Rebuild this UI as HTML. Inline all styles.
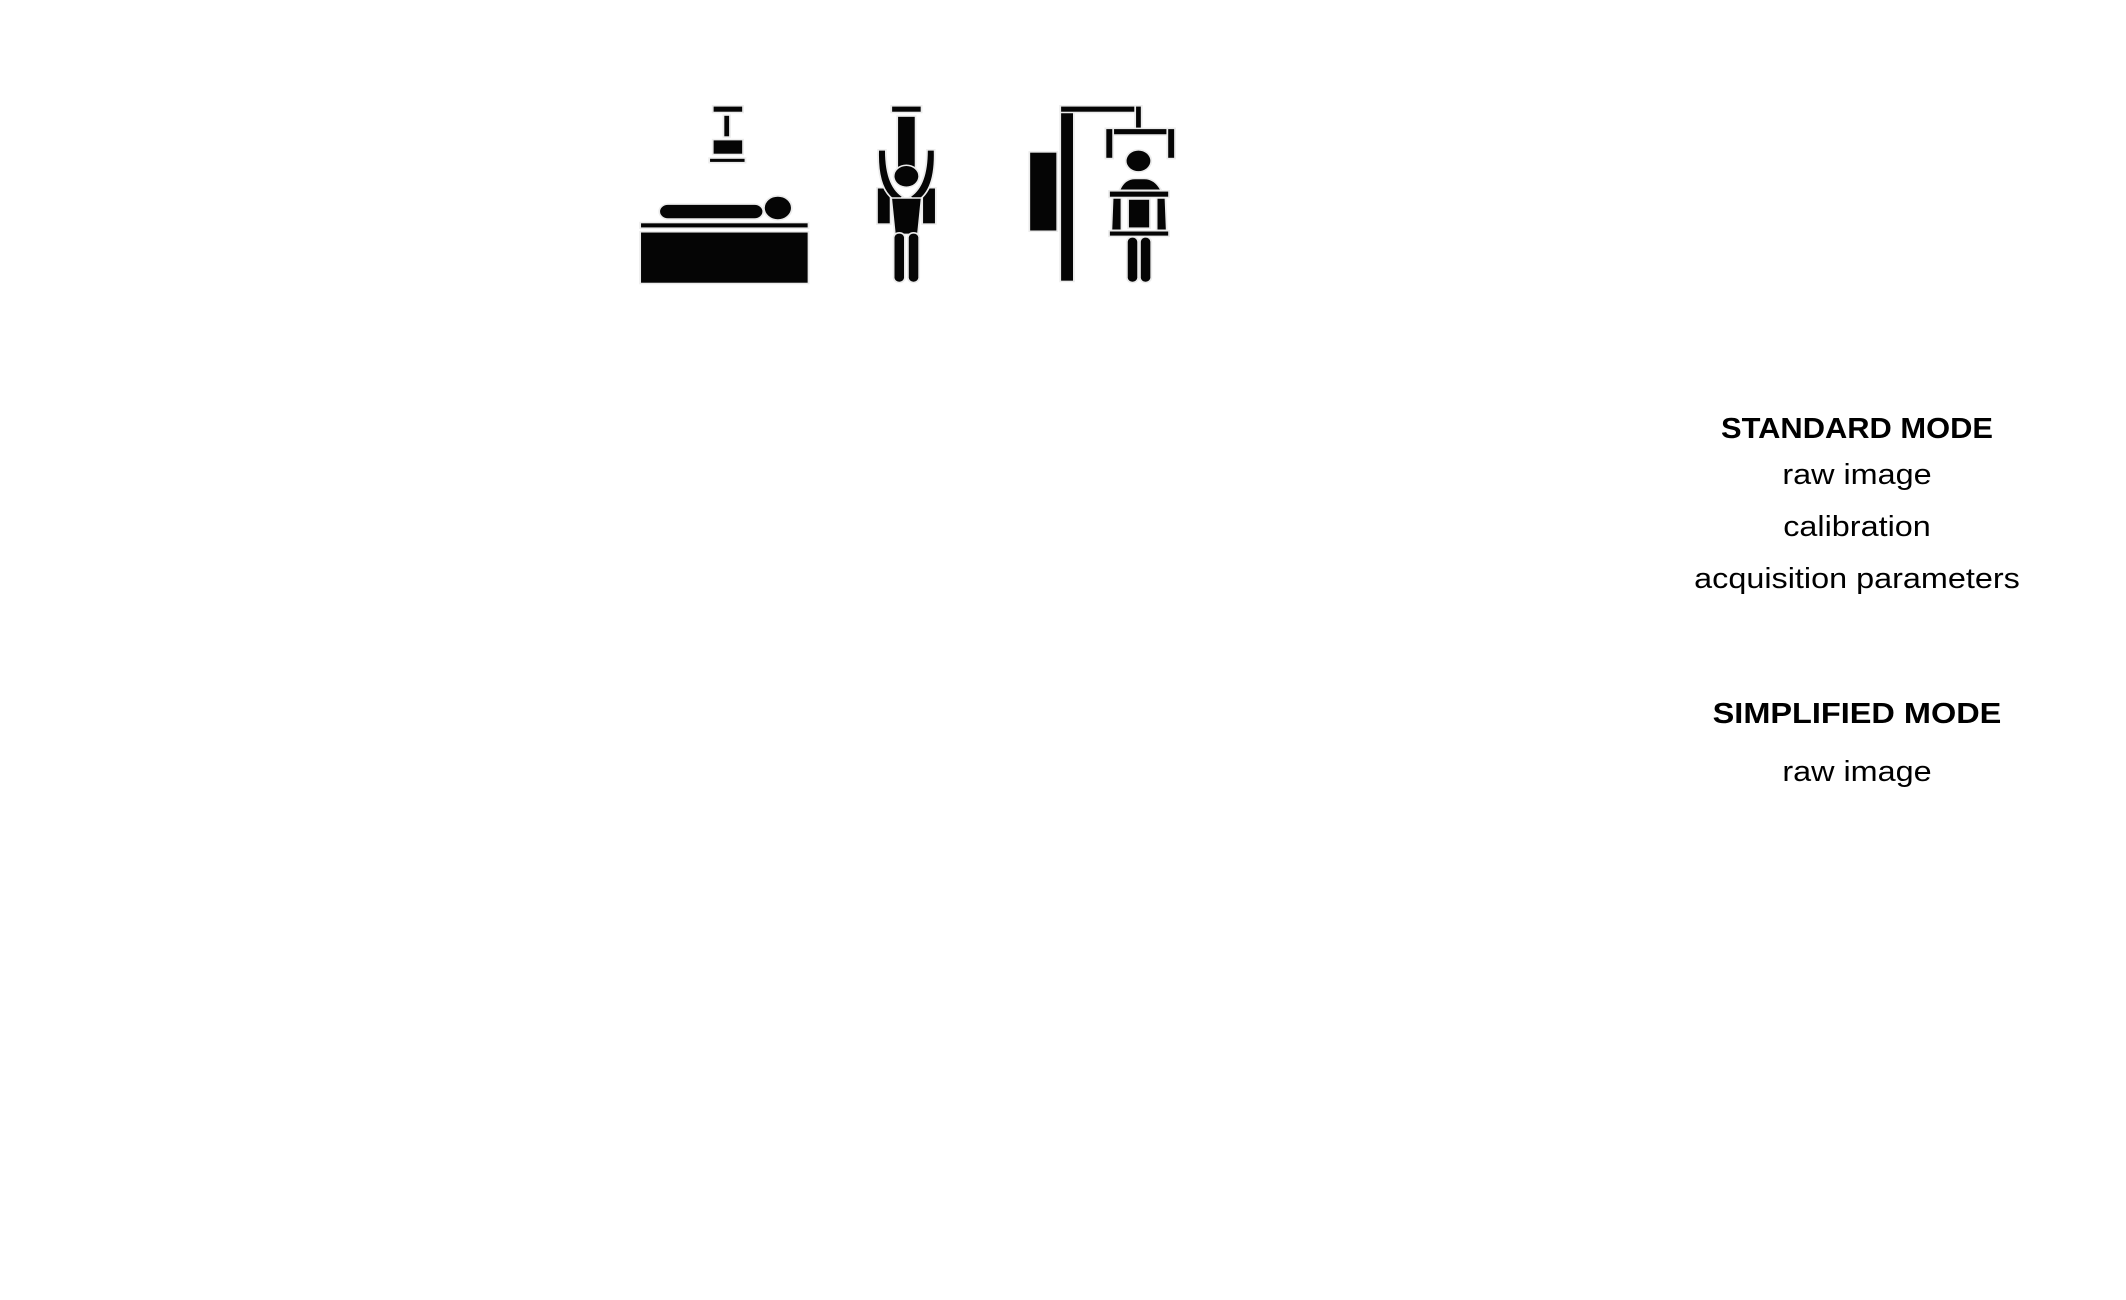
<!DOCTYPE html>
<html><head><meta charset="utf-8"><style>
html,body{margin:0;padding:0;background:#fff;width:2126px;height:1300px;overflow:hidden}
.t{position:absolute;left:1657px;width:400px;text-align:center;font-family:"Liberation Sans",sans-serif;color:#000;line-height:1}
.b{font-weight:bold;font-size:29px;transform:scaleX(1.064)}
.n{font-size:29px;transform:scaleX(1.116)}
</style></head><body>
<svg width="2126" height="1300" style="position:absolute;left:0;top:0">
<g fill="#050505" stroke="#ececec" stroke-width="3" paint-order="stroke" transform="matrix(1.19 0 0 1.024 -117 -4)">
<rect x="698" y="108" width="24" height="5"/>
<rect x="707" y="117" width="4" height="20"/>
<rect x="698" y="141" width="24" height="13"/>
<rect x="695" y="159" width="29" height="3"/>
<rect x="653" y="204" width="86" height="13" rx="6.5"/>
<circle cx="752" cy="207" r="11"/>
<rect x="637" y="222" width="140" height="4"/>
<rect x="637" y="231" width="140" height="49"/>
<rect x="848" y="108" width="24" height="5"/>
<rect x="853" y="118" width="14" height="50"/>
<rect x="836" y="188" width="10" height="34"/>
<rect x="874" y="188" width="10" height="34"/>
<path d="M837 151 Q836 190 852 200 L856 196 Q842 185 842 151 Z"/>
<path d="M883 151 Q884 190 868 200 L864 196 Q878 185 878 151 Z"/>
<circle cx="860" cy="176" r="10"/>
<path d="M848 198 L872 198 L869 232 L851 232 Z"/>
<rect x="850" y="232" width="8" height="47" rx="4"/>
<rect x="862" y="232" width="8" height="47" rx="4"/>
<rect x="990" y="108" width="10" height="170"/>
<rect x="990" y="108" width="67" height="5"/>
<rect x="1053" y="108" width="4" height="24"/>
<rect x="1028" y="130" width="56" height="5"/>
<rect x="1028" y="130" width="5" height="28"/>
<rect x="1080" y="130" width="5" height="28"/>
<rect x="964" y="153" width="22" height="76"/>
<circle cx="1055" cy="161" r="10"/>
<path d="M1040 189 Q1044 179 1052 179 L1060 179 Q1068 179 1073 189 Z"/>
<rect x="1031" y="191" width="49" height="5"/>
<path d="M1034 198 L1040 198 L1040 228 L1033 228 Z"/>
<path d="M1071 198 L1077 198 L1078 228 L1071 228 Z"/>
<rect x="1047" y="199" width="17" height="27"/>
<rect x="1031" y="230" width="49" height="4"/>
<rect x="1046" y="236" width="8" height="43" rx="4"/>
<rect x="1057" y="236" width="8" height="43" rx="4"/>
</g>
</svg>
<div class="t b" style="top:415px">STANDARD MODE</div>
<div class="t n" style="top:461px">raw image</div>
<div class="t n" style="top:513px">calibration</div>
<div class="t n" style="top:565px">acquisition parameters</div>
<div class="t b" style="top:700px;transform:scaleX(1.12)">SIMPLIFIED MODE</div>
<div class="t n" style="top:758px">raw image</div>
</body></html>
